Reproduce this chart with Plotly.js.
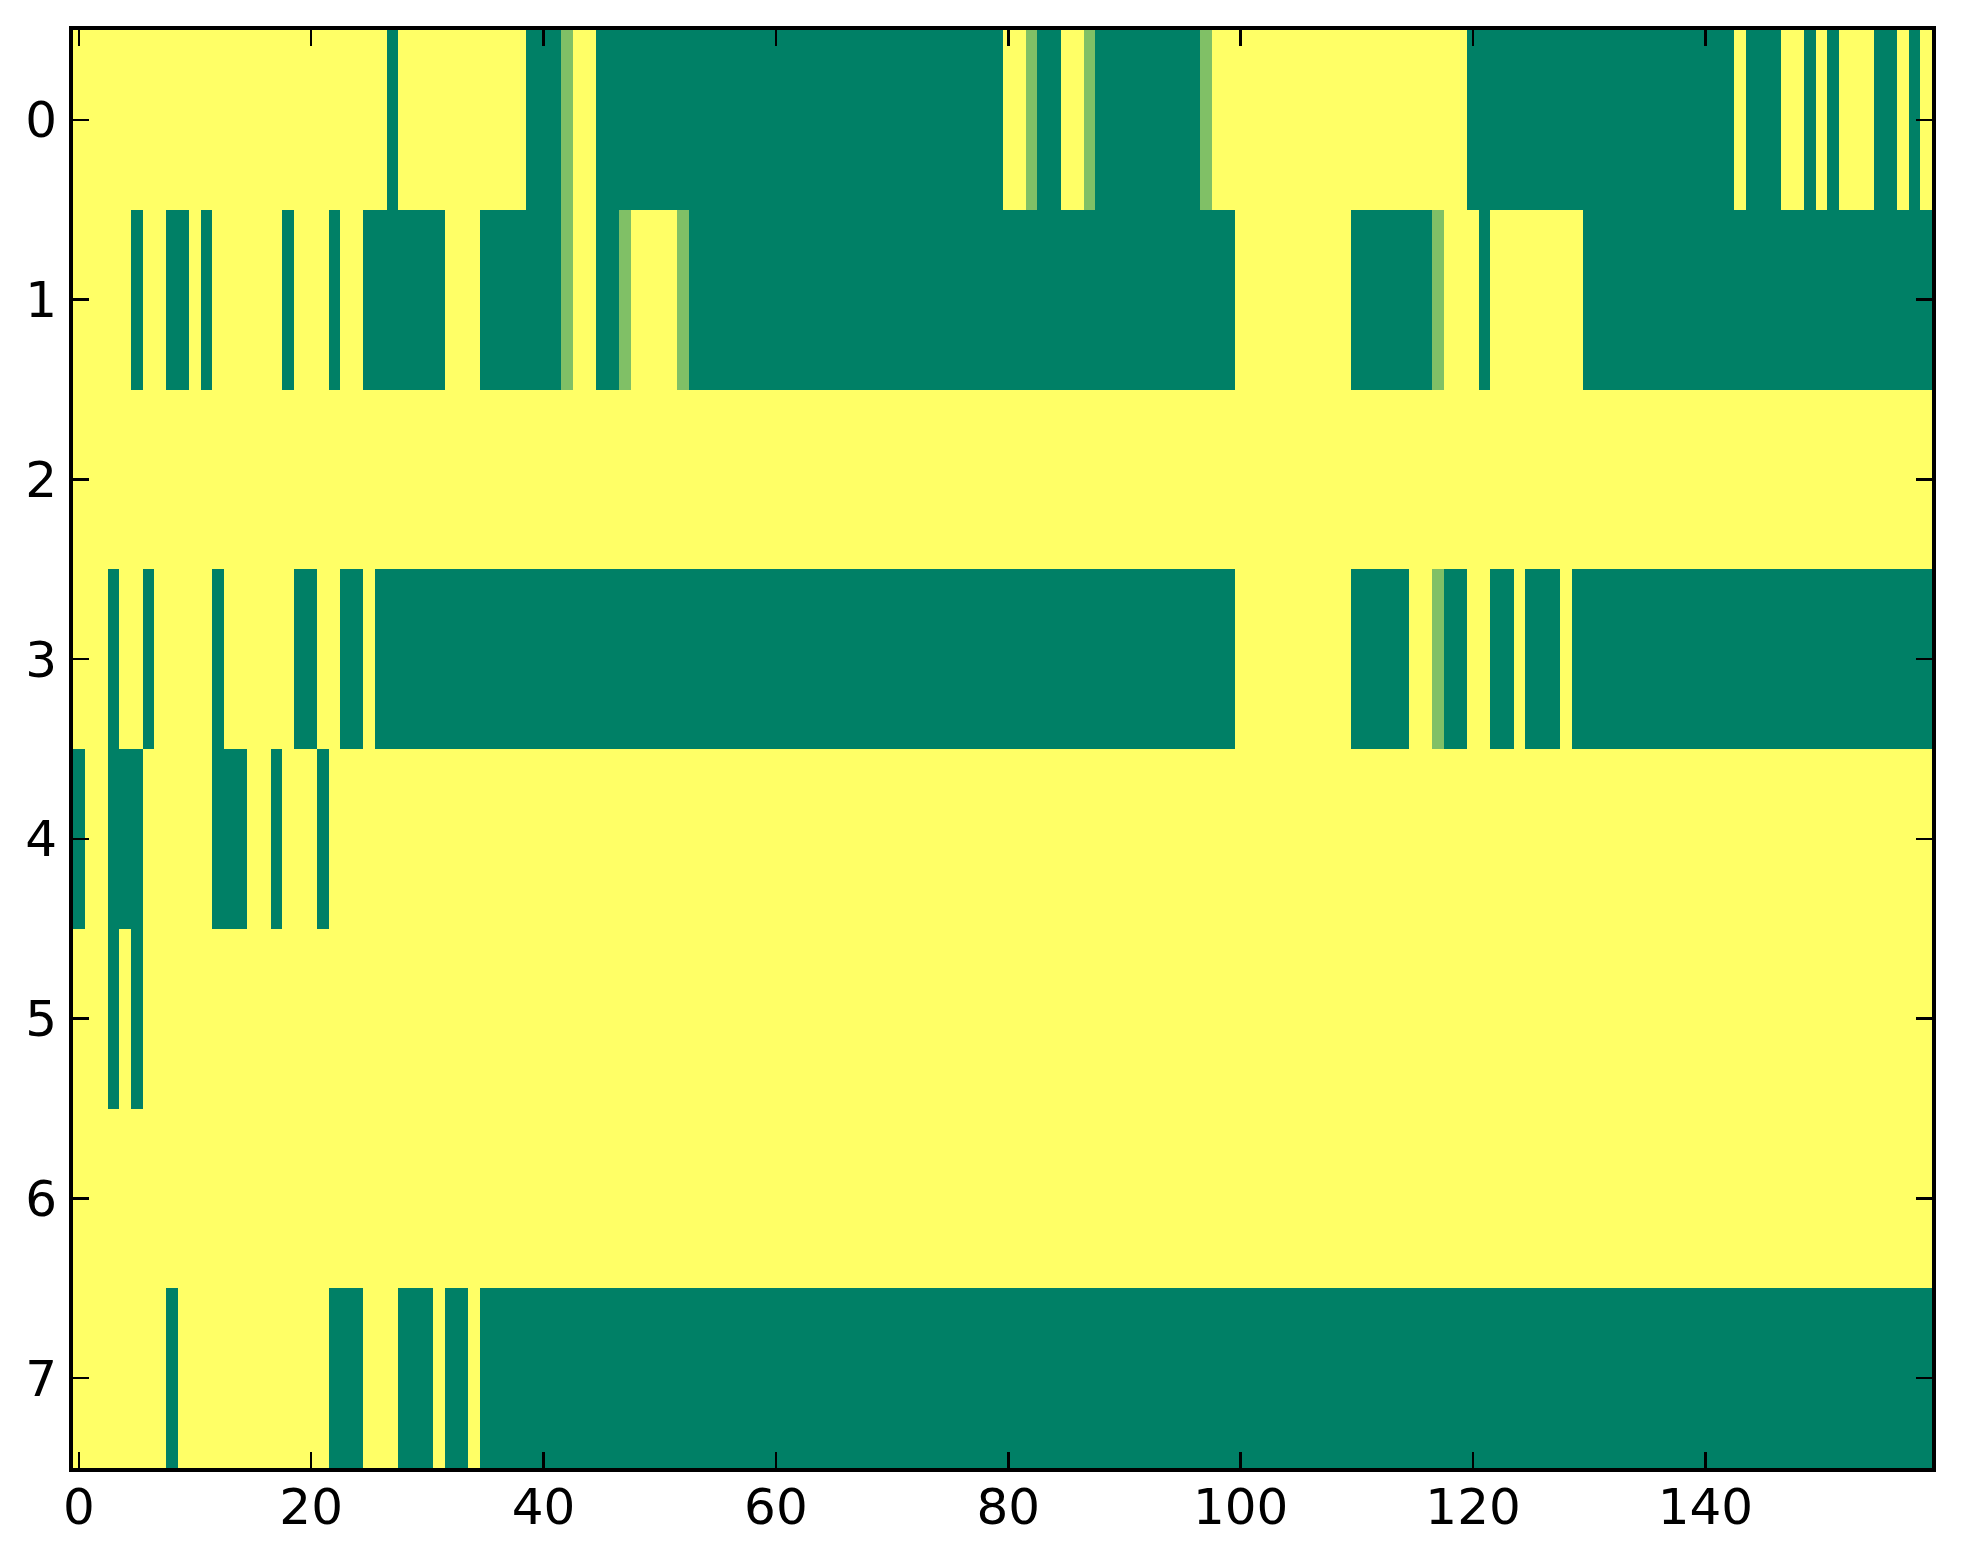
<!DOCTYPE html>
<html>
<head>
<meta charset="utf-8">
<script src="https://cdn.plot.ly/plotly-3.0.1.min.js"></script>
<style>html,body{margin:0;padding:0;background:#fff;}#chart{width:1963px;height:1564px;}</style>
</head>
<body>
<div id="chart"></div>
<script>
// Cell codes, in groups of 10 columns: 0 = 0.0, 1 = 0.5, 2 = 1.0
const row0 = "2222222222 2222222222 2222222022 2222222220 0012200000 0000000000 0000000000 0000000000 2210022100 0000000122 2222222222 2222222222 0000000000 0000000000 0002000220 2022200202";
const row1 = "2222202200 2022222202 2202200000 0022200000 0012200122 2210000000 0000000000 0000000000 0000000000 0000000000 2222222222 0000000122 2022222222 0000000000 0000000000 0000000000";
const row2 = "2222222222 2222222222 2222222222 2222222222 2222222222 2222222222 2222222222 2222222222 2222222222 2222222222 2222222222 2222222222 2222222222 2222222222 2222222222 2222222222";
const row3 = "2220220222 2202222220 0220020000 0000000000 0000000000 0000000000 0000000000 0000000000 0000000000 0000000000 2222222222 0000022100 2200200020 0000000000 0000000000 0000000000";
const row4 = "0220002222 2200022022 2022222222 2222222222 2222222222 2222222222 2222222222 2222222222 2222222222 2222222222 2222222222 2222222222 2222222222 2222222222 2222222222 2222222222";
const row5 = "2220202222 2222222222 2222222222 2222222222 2222222222 2222222222 2222222222 2222222222 2222222222 2222222222 2222222222 2222222222 2222222222 2222222222 2222222222 2222222222";
const row6 = "2222222222 2222222222 2222222222 2222222222 2222222222 2222222222 2222222222 2222222222 2222222222 2222222222 2222222222 2222222222 2222222222 2222222222 2222222222 2222222222";
const row7 = "2222222202 2222222222 2200022200 0200200000 0000000000 0000000000 0000000000 0000000000 0000000000 0000000000 0000000000 0000000000 0000000000 0000000000 0000000000 0000000000";

const rowCodes = [row0, row1, row2, row3, row4, row5, row6, row7];
const codeValues = {"0": 0, "1": 0.5, "2": 1};
const xTicks = [0, 20, 40, 60, 80, 100, 120, 140];
const yTicks = [0, 1, 2, 3, 4, 5, 6, 7];

const z = rowCodes.map(s => s.replace(/\s+/g, "").split("").map(c => codeValues[c]));

const axisCommon = {
  showline: true, linecolor: "#000", linewidth: 4, mirror: "ticks",
  ticks: "inside", ticklen: 16, tickwidth: 2.5, tickcolor: "#000",
  showgrid: false, zeroline: false,
  tickfont: {family: "DejaVu Sans", size: 50, color: "#000"}
};

Plotly.newPlot("chart", [{
  type: "heatmap",
  z: z,
  zmin: 0, zmax: 1,
  colorscale: [[0, "#008066"], [1, "#ffff66"]],
  showscale: false,
  hoverinfo: "skip"
}], {
  width: 1963, height: 1564,
  margin: {l: 73, r: 31, t: 30, b: 96, pad: 0},
  paper_bgcolor: "#fff", plot_bgcolor: "#fff",
  xaxis: Object.assign({}, axisCommon, {range: [-0.5, 159.5], tickvals: xTicks, ticklabelstandoff: -8}),
  yaxis: Object.assign({}, axisCommon, {range: [7.5, -0.5], tickvals: yTicks, ticklabelstandoff: 2})
}, {staticPlot: true});
</script>
</body>
</html>
